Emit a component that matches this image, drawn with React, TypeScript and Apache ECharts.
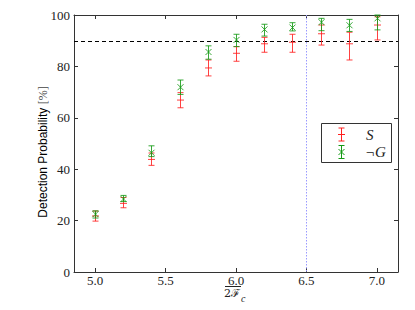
import React, { useEffect, useRef } from "react";
import * as echarts from "echarts";

const xValues = [5.0, 5.2, 5.4, 5.6, 5.8, 6.0, 6.2, 6.4, 6.6, 6.8, 7.0];
const sMean = [21.8, 26.7, 43.8, 66.9, 79.4, 85.1, 88.8, 89.4, 92.7, 88.8, 96.1];
const sLow = [19.8, 25.0, 41.5, 63.9, 76.3, 82.0, 85.5, 85.5, 88.3, 82.5, 90.3];
const sHigh = [23.7, 29.0, 46.3, 69.8, 82.5, 87.7, 91.3, 92.5, 96.1, 93.3, 99.3];
const gMean = [22.5, 28.4, 46.4, 71.9, 85.6, 90.3, 94.4, 95.1, 97.2, 96.0, 98.7];
const gLow = [21.0, 27.4, 44.9, 69.1, 82.8, 87.7, 91.8, 93.8, 93.9, 93.6, 94.2];
const gHigh = [23.8, 29.8, 49.1, 74.7, 88.0, 92.5, 96.4, 97.0, 98.7, 98.3, 100.0];
const xTicks = [5.0, 5.5, 6.0, 6.5, 7.0];
const thresholdY = 90;
const markerX = 6.5;
const legendNames = ["S", "¬G"];

const RED = "#ff2020";
const GREEN = "#159a15";
const AXIS = "#333333";
const SERIF = "Liberation Serif";
const SANS = "Liberation Sans";

function makeRender(kind: "s" | "g") {
  return (params: any, api: any) => {
    const x = api.value(0);
    const m = api.value(1);
    const lo = api.value(2);
    const hi = api.value(3);
    const pm = api.coord([x, m]);
    const pl = api.coord([x, lo]);
    const ph = api.coord([x, hi]);
    const color = kind === "s" ? RED : GREEN;
    const style = { stroke: color, lineWidth: 1, opacity: 0.85 };
    const cx = Math.round(pm[0]) + 0.5;
    const cw = 3;
    const children: any[] = [
      { type: "line", shape: { x1: cx, y1: pl[1], x2: cx, y2: ph[1] }, style },
      { type: "line", shape: { x1: cx - cw, y1: pl[1], x2: cx + cw, y2: pl[1] }, style },
      { type: "line", shape: { x1: cx - cw, y1: ph[1], x2: cx + cw, y2: ph[1] }, style },
    ];
    if (kind === "s") {
      children.push({ type: "line", shape: { x1: cx - 3.5, y1: pm[1], x2: cx + 3.5, y2: pm[1] }, style });
    } else {
      const d = 3;
      children.push({ type: "line", shape: { x1: cx - d, y1: pm[1] - d, x2: cx + d, y2: pm[1] + d }, style });
      children.push({ type: "line", shape: { x1: cx - d, y1: pm[1] + d, x2: cx + d, y2: pm[1] - d }, style });
    }
    return { type: "group", children };
  };
}

function refRender(params: any, api: any) {
  const p = api.coord([api.value(0), api.value(1)]);
  const cs = params.coordSys;
  const vx = Math.round(p[0]) + 0.5;
  const hy = Math.round(p[1]) + 0.5;
  return {
    type: "group",
    children: [
      {
        type: "line",
        shape: { x1: vx, y1: cs.y, x2: vx, y2: cs.y + cs.height },
        style: { stroke: "#9a9aff", lineWidth: 1, lineDash: [1.5, 1.5] },
      },
      {
        type: "line",
        shape: { x1: cs.x, y1: hy, x2: cs.x + cs.width, y2: hy },
        style: { stroke: "#000", lineWidth: 1, lineDash: [4, 3] },
      },
    ],
  };
}

function legendIcon(kind: "s" | "g", cx: number, cy: number) {
  const color = kind === "s" ? RED : GREEN;
  const style = { stroke: color, lineWidth: 1 };
  const top = cy - 6.5;
  const bot = cy + 6.5;
  const items: any[] = [
    { type: "line", shape: { x1: cx, y1: top, x2: cx, y2: bot }, style },
    { type: "line", shape: { x1: cx - 3, y1: top, x2: cx + 3, y2: top }, style },
    { type: "line", shape: { x1: cx - 3, y1: bot, x2: cx + 3, y2: bot }, style },
  ];
  if (kind === "s") {
    items.push({ type: "line", shape: { x1: cx - 3.5, y1: cy, x2: cx + 3.5, y2: cy }, style });
  } else {
    items.push({ type: "line", shape: { x1: cx - 3, y1: cy - 3, x2: cx + 3, y2: cy + 3 }, style });
    items.push({ type: "line", shape: { x1: cx - 3, y1: cy + 3, x2: cx + 3, y2: cy - 3 }, style });
  }
  return items;
}

export default function App() {
  const ref = useRef<HTMLDivElement>(null);
  useEffect(() => {
    if (!ref.current) return;
    const chart = echarts.init(ref.current, null, { renderer: "svg" });
    const sData = xValues.map((x, i) => [x, sMean[i], sLow[i], sHigh[i]]);
    const gData = xValues.map((x, i) => [x, gMean[i], gLow[i], gHigh[i]]);
    const xCommon = {
      type: "value",
      min: 4.85,
      max: 7.15,
      splitLine: { show: false },
      axisLine: { show: true, onZero: false, lineStyle: { color: AXIS, width: 1 } },
      axisTick: { show: true, inside: true, length: 4, customValues: xTicks, lineStyle: { color: AXIS } },
    };
    const yCommon = {
      type: "value",
      min: 0,
      max: 100,
      interval: 20,
      splitLine: { show: false },
      axisLine: { show: true, onZero: false, lineStyle: { color: AXIS, width: 1 } },
      axisTick: { show: true, inside: true, length: 4, lineStyle: { color: AXIS } },
    };
    chart.setOption({
      animation: false,
      grid: { left: 74, right: 17, top: 15, bottom: 38, containLabel: false, outerBoundsMode: "none" },
      xAxis: [
        {
          ...xCommon,
          position: "bottom",
          axisLabel: {
            customValues: xTicks,
            formatter: (v: number) => v.toFixed(1),
            fontFamily: SERIF,
            fontSize: 13,
            color: "#222",
            margin: 2,
          },
        },
        { ...xCommon, position: "top", axisLabel: { show: false } },
      ],
      yAxis: [
        {
          ...yCommon,
          position: "left",
          axisLabel: { fontFamily: SERIF, fontSize: 13, color: "#222", margin: 4 },
        },
        { ...yCommon, position: "right", axisLabel: { show: false } },
      ],
      series: [
        {
          type: "custom",
          renderItem: refRender,
          encode: { x: 0, y: 1 },
          data: [[markerX, thresholdY]],
          clip: false,
          silent: true,
          z: 1,
        },
        {
          type: "custom",
          name: legendNames[0],
          renderItem: makeRender("s"),
          encode: { x: 0, y: 1 },
          data: sData,
          z: 3,
        },
        {
          type: "custom",
          name: legendNames[1],
          renderItem: makeRender("g"),
          encode: { x: 0, y: 1 },
          data: gData,
          z: 4,
        },
      ],
      graphic: [
        {
          type: "text",
          x: 43,
          y: 152,
          rotation: Math.PI / 2,
          style: {
            text: "{a|Detection Probability} {b|[%]}",
            align: "center",
            verticalAlign: "middle",
            rich: {
              a: { fontFamily: SANS, fontSize: 12, fill: "#000" },
              b: { fontFamily: SERIF, fontSize: 12, fill: "#444" },
            },
          },
        },
        {
          type: "text",
          x: 224,
          y: 288,
          style: { text: "2ℱ", fontFamily: "DejaVu Serif", fontSize: 11, fill: "#222" },
        },
        {
          type: "text",
          x: 241,
          y: 293,
          style: { text: "c", fontFamily: SERIF, fontStyle: "italic", fontSize: 10, fill: "#222" },
        },
        {
          type: "line",
          shape: { x1: 225, y1: 286.5, x2: 241, y2: 286.5 },
          style: { stroke: "#222", lineWidth: 1 },
        },
        {
          type: "rect",
          shape: { x: 321.5, y: 123.5, width: 70, height: 39 },
          style: { fill: "#fff", stroke: AXIS, lineWidth: 1 },
          z: 10,
        },
        ...legendIcon("s", 341.5, 134.5).map((e) => ({ ...e, z: 11 })),
        ...legendIcon("g", 341.5, 152).map((e) => ({ ...e, z: 11 })),
        {
          type: "text",
          x: 366,
          y: 134.5,
          z: 11,
          style: { text: legendNames[0], fontFamily: SERIF, fontStyle: "italic", fontSize: 15, fill: "#222", verticalAlign: "middle" },
        },
        {
          type: "text",
          x: 365,
          y: 152,
          z: 11,
          style: { text: legendNames[1], fontFamily: SERIF, fontStyle: "italic", fontSize: 15, fill: "#222", verticalAlign: "middle" },
        },
      ],
    });
    return () => chart.dispose();
  }, []);
  return (
    <div
      ref={ref}
      style={{ position: "absolute", left: 0, top: 0, width: 415, height: 310, background: "#fff" }}
    />
  );
}
